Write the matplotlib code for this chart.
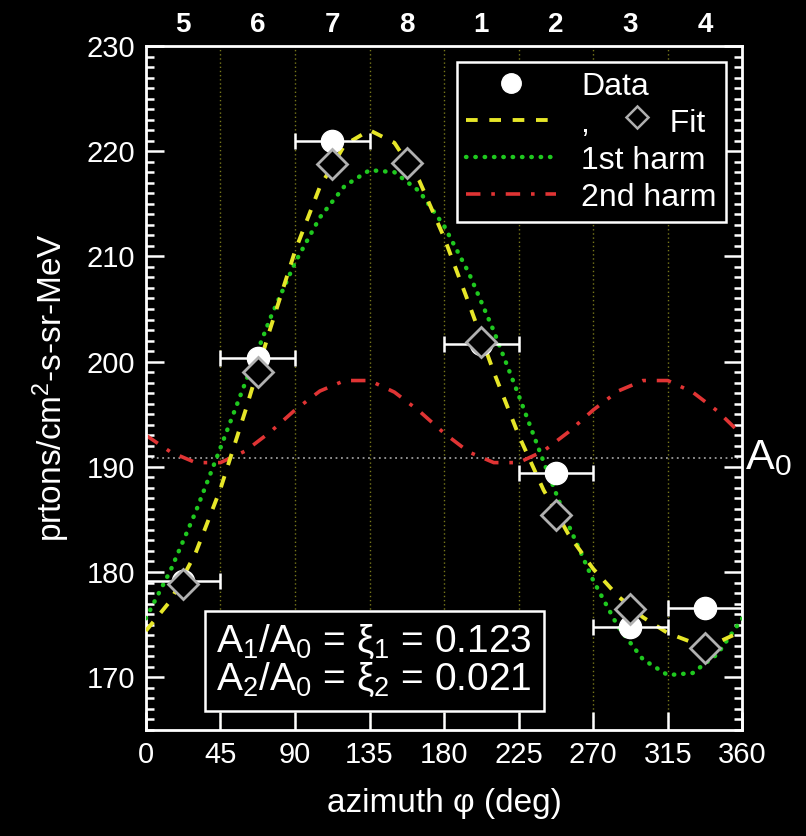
import numpy as np
import matplotlib
matplotlib.use("Agg")
import matplotlib.pyplot as plt
from matplotlib.lines import Line2D
from matplotlib.legend_handler import HandlerBase
from matplotlib.ticker import MultipleLocator

plt.rcParams['font.family'] = ['Liberation Sans', 'DejaVu Sans']
plt.rcParams['mathtext.fontset'] = 'custom'
plt.rcParams['mathtext.rm'] = 'Liberation Sans'
plt.rcParams['mathtext.it'] = 'Liberation Sans'

# sectors (top axis)
sector_phi = [22.5, 67.5, 112.5, 157.5, 202.5, 247.5, 292.5, 337.5]
sector_labels = ['5', '6', '7', '8', '1', '2', '3', '4']

# measured data
data_phi = [22.5, 67.5, 112.5, 202.5, 247.5, 292.5, 337.5]
data_val = [179.1, 200.3, 221.0, 201.7, 189.4, 174.8, 176.6]
data_xerr = [22.5, 22.5, 22.5, 22.5, 22.5, 22.5, 22.5]

# fit values per sector
fit_val = [178.9, 199.0, 218.8, 218.9, 201.9, 185.4, 176.5, 172.8]

# curves
curve_phi = [0, 15, 30, 45, 60, 75, 90, 105, 120, 135, 150, 165, 180,
             195, 210, 225, 240, 255, 270, 285, 300, 315, 330, 345, 360]
fit_curve = [174.4, 177.3, 181.8, 187.9, 195.3, 203.1, 210.5, 216.6, 220.6, 222.0,
             220.8, 217.2, 211.8, 205.5, 199.0, 193.0, 187.8, 183.6, 180.3, 177.7,
             175.7, 174.2, 173.3, 173.3, 174.4]
harm1_curve = [175.6, 180.2, 185.7, 191.8, 198.0, 204.1, 209.4, 213.7, 216.7, 218.2,
               218.0, 216.2, 212.9, 208.4, 202.9, 196.8, 190.5, 184.5, 179.2, 174.8,
               171.7, 170.2, 170.4, 172.2, 175.6]
harm2_curve = [193.0, 191.4, 190.4, 190.4, 191.5, 193.3, 195.4, 197.2, 198.2, 198.2,
               197.1, 195.3, 193.2, 191.4, 190.4, 190.4, 191.5, 193.3, 195.4, 197.2,
               198.2, 198.2, 197.1, 195.3, 193.0]

a0_level = 190.8
ratio_text = "A$_1$/A$_0$ = \u03be$_1$ = 0.123\nA$_2$/A$_0$ = \u03be$_2$ = 0.021"

yellow = '#e6e628'
green = '#1fc81f'
red = '#e03434'
white = 'white'


class FitHandler(HandlerBase):
    # yellow line in the handle box, gray diamond placed after the comma
    def create_artists(self, legend, orig_handle, xdescent, ydescent,
                       width, height, fontsize, trans):
        line, dia = orig_handle
        y = height / 2.0 - ydescent
        l = Line2D([-xdescent, -xdescent + width], [y, y])
        l.update_from(line)
        l.set_transform(trans)
        d = Line2D([-xdescent + width + 2.55 * fontsize], [y + 0.1 * fontsize],
                   linestyle='none', marker='D', markersize=11,
                   markerfacecolor='black', markeredgecolor='#b0b0b0',
                   markeredgewidth=1.8)
        d.set_transform(trans)
        return [l, d]


fig = plt.figure(figsize=(8.06, 8.36), dpi=100, facecolor='black')
ax = fig.add_axes([0.181, 0.127, 0.740, 0.818])
ax.set_facecolor('black')

for v in [45, 90, 135, 180, 225, 270, 315]:
    ax.axvline(v, color='#77771a', linestyle=(0, (1, 2)), linewidth=1.0, zorder=1)
ax.axhline(a0_level, color='#9a9a9a', linestyle=(0, (1, 2)), linewidth=1.3, zorder=1)

h2, = ax.plot(curve_phi, harm2_curve, color=red, linewidth=2.6,
              linestyle=(0, (4, 3, 1, 3)), zorder=2)
h1, = ax.plot(curve_phi, harm1_curve, color=green, linewidth=3.2,
              linestyle=(0, (0.1, 2.0)), dash_capstyle='round', zorder=3)
hf, = ax.plot(curve_phi, fit_curve, color=yellow, linewidth=2.8,
              linestyle=(0, (3, 3)), zorder=4)

ax.errorbar(data_phi, data_val, xerr=data_xerr, fmt='none', ecolor=white,
            elinewidth=1.8, capsize=6, capthick=1.8, zorder=5)
hd, = ax.plot(data_phi, data_val, linestyle='none', marker='o', markersize=16,
              color=white, zorder=6)
hdia, = ax.plot(sector_phi, fit_val, linestyle='none', marker='D', markersize=15.5,
                markerfacecolor='black', markeredgecolor='#b0b0b0',
                markeredgewidth=2.0, zorder=7)

ax.set_xlim(0, 360)
ax.set_ylim(165, 230)
ax.xaxis.set_major_locator(MultipleLocator(45))
ax.yaxis.set_major_locator(MultipleLocator(10))
ax.yaxis.set_minor_locator(MultipleLocator(1))

for sp in ax.spines.values():
    sp.set_color(white)
    sp.set_linewidth(2.0)
ax.tick_params(which='both', direction='in', colors=white, top=True, right=True,
               labelsize=21, width=1.8)
ax.tick_params(which='major', length=13, pad=8)
ax.tick_params(which='minor', length=6)

ax.set_xlabel("azimuth \u03c6 (deg)", color=white, fontsize=24, labelpad=14)
ax.set_ylabel("prtons/cm$^2$-s-sr-MeV", color=white, fontsize=24, labelpad=10)

top = ax.twiny()
top.set_xlim(0, 360)
top.set_xticks(sector_phi)
top.set_xticklabels(sector_labels, fontweight='bold')
top.tick_params(axis='x', length=0, colors=white, labelsize=20, pad=6)
for sp in top.spines.values():
    sp.set_visible(False)

ax.text(1.005, (a0_level - 165) / 65.0, "A$_0$", transform=ax.transAxes,
        color=white, fontsize=31, ha='left', va='center')

ax.text(0.118, 0.045, ratio_text, transform=ax.transAxes, color=white,
        fontsize=28, ha='left', va='bottom', linespacing=1.0, zorder=8,
        bbox=dict(boxstyle='square,pad=0.3', facecolor='black',
                  edgecolor=white, linewidth=1.8))

leg = ax.legend([hd, (hf, hdia), h1, h2],
                ["Data", ",         Fit", "1st harm", "2nd harm"],
                handler_map={tuple: FitHandler()},
                loc='upper right', fontsize=23, frameon=True, fancybox=False,
                handlelength=2.8, handletextpad=0.8, labelspacing=0.22,
                borderpad=0.3, borderaxespad=0.5, numpoints=1)
leg.get_frame().set_facecolor('black')
leg.get_frame().set_edgecolor(white)
leg.get_frame().set_linewidth(1.8)
leg.get_frame().set_alpha(1)
leg.set_zorder(9)
for t in leg.get_texts():
    t.set_color(white)
leg.legend_handles[0].set_markersize(14)

fig.savefig("out.png", dpi=100, facecolor='black')
